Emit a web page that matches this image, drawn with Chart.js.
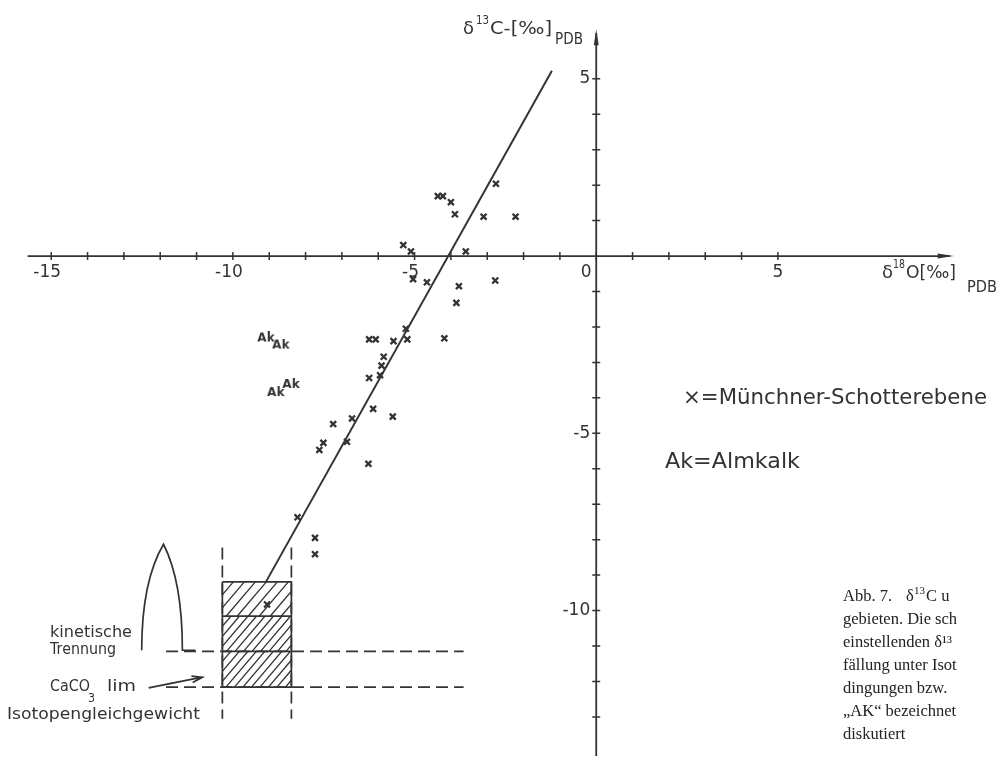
<!DOCTYPE html>
<html>
<head>
<meta charset="utf-8">
<script src="https://cdn.jsdelivr.net/npm/chart.js@4.4.0/dist/chart.umd.min.js"></script>
<style>
  html, body { margin: 0; padding: 0; background: #fff; }
  #wrap { width: 1000px; height: 767px; }
</style>
</head>
<body>
<div id="wrap"><canvas id="c" width="1000" height="767"></canvas></div>
<script>
// tick labels on the two axes
const xTickLabels = [-15, -10, -5, 0, 5];
const yTickLabels = [5, -5, -10];
const xTickRange = [-15, 5];
const yTickRange = [-13, 5];
const xAxisRange = [-15.65, 9.84];
const yAxisRange = [-14.1, 6.4];

// Münchner Schotterebene (x = d18O, y = d13C)
const muenchnerX = [-2.76, -4.36, -4.22, -4.0, -3.89, -3.10, -2.22, -5.31, -5.10, -3.59,
  -5.04, -4.66, -2.78, -3.78, -3.85, -5.24, -6.25, -6.07, -5.58, -5.20,
  -4.18, -5.85, -5.91, -5.95, -6.25, -6.14, -5.60, -6.72, -7.24, -6.86,
  -7.51, -7.62, -6.27, -8.22, -7.74, -7.74, -9.06];
const muenchnerY = [2.04, 1.69, 1.69, 1.52, 1.18, 1.11, 1.11, 0.31, 0.13, 0.13,
  -0.65, -0.74, -0.69, -0.85, -1.32, -2.05, -2.35, -2.35, -2.40, -2.35,
  -2.32, -2.84, -3.09, -3.36, -3.44, -4.31, -4.53, -4.58, -4.74, -5.24,
  -5.27, -5.47, -5.86, -7.37, -7.95, -8.41, -9.83];

// Almkalk
const akX = [-9.09, -8.68, -8.82, -8.40];
const akY = [-2.31, -2.51, -3.85, -3.62];

// trend line
const trendX = [-1.22, -9.08];
const trendY = [5.23, -9.17];

// hatched box (CaCO3 field) and guide lines
const boxX = [-10.29, -8.39];
const boxY = [-9.19, -10.16, -11.15, -12.16];
const guideYRange = [-8.22, -13.05];
const guideXRange = [-11.84, -3.65];

// kinetic separation arch: left base, apex, right base, end of base line
const archX = [-12.51, -11.91, -11.39, -11.03];
const archY = [-11.12, -8.13, -11.12, -11.12];

// arrow CaCO3 lim
const arrowX = [-12.32, -10.84];
const arrowY = [-12.18, -11.88];

const pts = (xs, ys) => xs.map((x, i) => ({ x, y: ys[i] }));

const ink = '#333';

// "Ak" marker image
const akImg = document.createElement('canvas');
akImg.width = 20; akImg.height = 13;
(function () {
  const c = akImg.getContext('2d');
  c.fillStyle = '#333';
  c.font = 'bold 12px "DejaVu Sans"';
  c.textAlign = 'center';
  c.textBaseline = 'middle';
  c.fillText('Ak', 10, 7);
})();

function fitText(ctx, txt, x, y, width, size, family) {
  ctx.save();
  ctx.font = size + 'px ' + (family || '"DejaVu Sans"');
  const w = ctx.measureText(txt).width;
  ctx.translate(x, y);
  ctx.scale(width / w, 1);
  ctx.fillText(txt, 0, 0);
  ctx.restore();
}

const drawing = {
  id: 'drawing',
  beforeDatasetsDraw(chart) {
    const { ctx, scales: { x, y } } = chart;
    ctx.save();
    ctx.strokeStyle = ink;
    ctx.fillStyle = ink;
    ctx.lineWidth = 1.8;

    // hatch in the box
    const bx0 = x.getPixelForValue(boxX[0]), bx1 = x.getPixelForValue(boxX[1]);
    for (let b = 0; b < 3; b++) {
      const top = y.getPixelForValue(boxY[b]), bot = y.getPixelForValue(boxY[b + 1]);
      const sp = b === 0 ? 11 : 8.5;
      const h = bot - top, dx = h * 0.85;
      ctx.save();
      ctx.beginPath();
      ctx.rect(bx0, top, bx1 - bx0, h);
      ctx.clip();
      ctx.lineWidth = 1.3;
      ctx.beginPath();
      for (let k = -dx; k < bx1 - bx0 + dx; k += sp) {
        ctx.moveTo(bx0 + k, bot);
        ctx.lineTo(bx0 + k + dx, top);
      }
      ctx.stroke();
      ctx.restore();
    }

    // axes
    const ox = x.getPixelForValue(0), oy = y.getPixelForValue(0);
    const xa0 = x.getPixelForValue(xAxisRange[0]), xa1 = x.getPixelForValue(xAxisRange[1]);
    const ya0 = y.getPixelForValue(yAxisRange[0]), ya1 = y.getPixelForValue(yAxisRange[1]);
    ctx.beginPath();
    ctx.moveTo(xa0, oy); ctx.lineTo(xa1 - 4, oy);
    ctx.moveTo(ox, ya0); ctx.lineTo(ox, ya1 + 4);
    ctx.stroke();
    // arrow heads
    ctx.beginPath();
    ctx.moveTo(xa1, oy); ctx.lineTo(xa1 - 16, oy - 2.5); ctx.lineTo(xa1 - 16, oy + 2.5); ctx.closePath();
    ctx.moveTo(ox, ya1); ctx.lineTo(ox - 2.5, ya1 + 16); ctx.lineTo(ox + 2.5, ya1 + 16); ctx.closePath();
    ctx.fill();
    // tick marks
    ctx.lineWidth = 1.5;
    ctx.beginPath();
    for (let v = xTickRange[0]; v <= xTickRange[1]; v++) {
      const px = x.getPixelForValue(v);
      ctx.moveTo(px, oy - 4); ctx.lineTo(px, oy + 4);
    }
    for (let v = yTickRange[0]; v <= yTickRange[1]; v++) {
      if (v === 0) continue;
      const py = y.getPixelForValue(v);
      ctx.moveTo(ox - 4, py); ctx.lineTo(ox + 4, py);
    }
    ctx.stroke();

    // tick labels
    ctx.font = '17px "DejaVu Sans"';
    ctx.textBaseline = 'middle';
    ctx.textAlign = 'center';
    xTickLabels.forEach(v => {
      let px = x.getPixelForValue(v);
      if (v === 0) px -= 10;
      if (v < 0) px -= 4;
      ctx.fillText(String(v), px, oy + 17);
    });
    ctx.textAlign = 'right';
    yTickLabels.forEach(v => {
      ctx.fillText(String(v), ox - 6, y.getPixelForValue(v));
    });

    // arch
    const ax = archX.map(v => x.getPixelForValue(v));
    const ay = archY.map(v => y.getPixelForValue(v));
    ctx.lineWidth = 1.7;
    ctx.beginPath();
    ctx.moveTo(ax[0], ay[0]);
    ctx.quadraticCurveTo(ax[0], ay[1] + (ay[0] - ay[1]) * 0.35, ax[1], ay[1]);
    ctx.quadraticCurveTo(ax[2], ay[1] + (ay[2] - ay[1]) * 0.35, ax[2], ay[2]);
    ctx.lineTo(ax[3], ay[3]);
    ctx.stroke();

    // arrow
    const p0x = x.getPixelForValue(arrowX[0]), p0y = y.getPixelForValue(arrowY[0]);
    const p1x = x.getPixelForValue(arrowX[1]), p1y = y.getPixelForValue(arrowY[1]);
    const ang = Math.atan2(p1y - p0y, p1x - p0x);
    ctx.beginPath();
    ctx.moveTo(p0x, p0y); ctx.lineTo(p1x, p1y);
    ctx.moveTo(p1x - 11 * Math.cos(ang - 0.3), p1y - 11 * Math.sin(ang - 0.3));
    ctx.lineTo(p1x, p1y);
    ctx.lineTo(p1x - 11 * Math.cos(ang + 0.3), p1y - 11 * Math.sin(ang + 0.3));
    ctx.stroke();
    ctx.restore();
  },
  afterDatasetsDraw(chart) {
    const { ctx } = chart;
    ctx.save();
    ctx.fillStyle = ink;
    ctx.textBaseline = 'middle';
    ctx.textAlign = 'left';

    // axis titles
    fitText(ctx, 'δ', 463, 30, 11, 17);
    fitText(ctx, '13', 476, 21, 13, 12);
    fitText(ctx, 'C-[‰]', 490, 30, 62, 17);
    fitText(ctx, 'PDB', 555, 40, 28, 16);
    fitText(ctx, 'δ', 882, 274, 11, 17);
    fitText(ctx, '18', 893, 265, 12, 12);
    fitText(ctx, 'O[‰]', 906, 274, 50, 17);
    fitText(ctx, 'PDB', 967, 288, 30, 16);

    // side annotations
    fitText(ctx, 'kinetische', 50, 633, 82, 16);
    fitText(ctx, 'Trennung', 50, 650, 66, 16);
    fitText(ctx, 'CaCO', 50, 687, 40, 16);
    fitText(ctx, '3', 88, 699, 7, 13);
    fitText(ctx, 'lim', 107, 687, 29, 16);
    fitText(ctx, 'Isotopengleichgewicht', 7, 715, 193, 16);

    // legend
    fitText(ctx, '×=Münchner-Schotterebene', 683, 399, 304, 21);
    fitText(ctx, 'Ak=Almkalk', 665, 462, 135, 22);

    // caption
    ctx.fillStyle = '#222';
    ctx.font = '16.5px "Liberation Serif"';
    ctx.fillText('Abb. 7.', 843, 597);
    ctx.fillText('δ', 906, 597);
    ctx.font = '11px "Liberation Serif"';
    ctx.fillText('13', 914, 591);
    ctx.font = '16.5px "Liberation Serif"';
    ctx.fillText('C u', 926, 597);
    const cap = ['gebieten. Die sch', 'einstellenden δ¹³', 'fällung unter Isot',
      'dingungen bzw.', '„AK“ bezeichnet', 'diskutiert'];
    cap.forEach((t, i) => ctx.fillText(t, 843, 620 + i * 23));
    ctx.restore();
  }
};

const line = (data, extra) => Object.assign({
  data, showLine: true, pointRadius: 0, borderColor: ink, borderWidth: 1.7, fill: false
}, extra || {});

const dash = [12, 6];

new Chart(document.getElementById('c'), {
  type: 'scatter',
  data: {
    datasets: [
      line(pts(trendX, trendY), { borderWidth: 2 }),
      line([{ x: boxX[0], y: boxY[0] }, { x: boxX[1], y: boxY[0] }, { x: boxX[1], y: boxY[3] },
            { x: boxX[0], y: boxY[3] }, { x: boxX[0], y: boxY[0] }]),
      line([{ x: boxX[0], y: boxY[1] }, { x: boxX[1], y: boxY[1] }]),
      line([{ x: boxX[0], y: boxY[2] }, { x: boxX[1], y: boxY[2] }]),
      line([{ x: boxX[0], y: guideYRange[0] }, { x: boxX[0], y: guideYRange[1] }], { borderDash: dash }),
      line([{ x: boxX[1], y: guideYRange[0] }, { x: boxX[1], y: guideYRange[1] }], { borderDash: dash }),
      line([{ x: guideXRange[0], y: boxY[2] }, { x: guideXRange[1], y: boxY[2] }], { borderDash: dash }),
      line([{ x: guideXRange[0], y: boxY[3] }, { x: guideXRange[1], y: boxY[3] }], { borderDash: dash }),
      {
        data: pts(muenchnerX, muenchnerY),
        pointStyle: 'crossRot', pointRadius: 4.2, pointBorderWidth: 2.3,
        borderColor: '#333', backgroundColor: '#333'
      },
      { data: pts(akX, akY), pointStyle: akImg, pointRadius: 8 }
    ]
  },
  options: {
    responsive: false,
    devicePixelRatio: 1,
    animation: false,
    layout: { padding: 0 },
    plugins: { legend: { display: false }, tooltip: { enabled: false } },
    scales: {
      x: { type: 'linear', min: -598 / 37, max: 402 / 37, display: false },
      y: { type: 'linear', min: -514 / 36.3, max: 253 / 36.3, display: false }
    }
  },
  plugins: [drawing]
});
</script>
</body>
</html>
